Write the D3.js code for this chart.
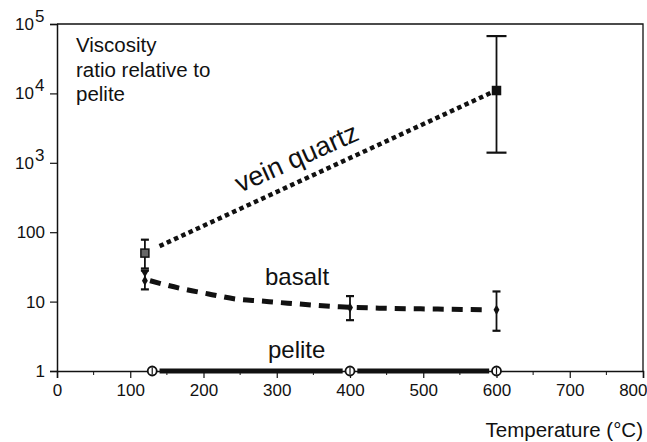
<!DOCTYPE html>
<html>
  <head>
    <meta charset="utf-8">
    <title>viscosity ratio</title>
    <script src="https://d3js.org/d3.v7.min.js"></script>
    <style>
      body { margin: 0; background: #fff; }
      text { font-family: "Liberation Sans", Arial, Helvetica, sans-serif; fill: #111; }
    </style>
  </head>
  <body>
    <div id="chart"></div>
    <script>
      // data
      var quartzT = [120, 600];
      var quartzV = [50, 11000];
      var quartzLo = [30, 1400];
      var quartzHi = [78, 67000];
      var quartzLineT = [140, 595];
      var quartzLineV = [63, 10500];

      var basaltT = [120, 400, 600];
      var basaltV = [20, 8.2, 7.6];
      var basaltLo = [15, 5.4, 3.8];
      var basaltHi = [28, 12, 14];
      var basaltCurveT = [127, 172, 207, 244, 278, 315, 386, 450, 520, 590];
      var basaltCurveV = [20, 15.2, 12.9, 10.9, 10.2, 9.5, 8.4, 8.0, 7.8, 7.6];

      var peliteT = [130, 400, 600];
      var peliteV = [1, 1, 1];
      var peliteSegT = [[140, 390], [410, 590]];

      var xTicks = [0, 100, 200, 300, 400, 500, 600, 700, 800];
      var xMinor = [50, 150, 250, 350, 450, 550, 650, 750];
      var yTicks = [1, 10, 100, 1000, 10000, 100000];
      var yBase = ["1", "10", "100", "10", "10", "10"];
      var yExp = ["", "", "", "3", "4", "5"];

      var width = 647, height = 442;
      // plot box (note: "top" is reserved on window)
      var m = { left: 57, right: 643, top: 24, bottom: 371 };

      var x = d3.scaleLinear().domain([0, 800]).range([m.left, m.right]);
      var y = d3.scaleLog().domain([1, 100000]).range([m.bottom, m.top]);

      var svg = d3.select("#chart").append("svg")
        .attr("width", width)
        .attr("height", height);

      // frame: top and right
      svg.append("path")
        .attr("d", "M" + m.left + "," + m.top + "H" + m.right + "V" + m.bottom)
        .attr("fill", "none")
        .attr("stroke", "#111")
        .attr("stroke-width", 1.3);

      // x axis
      var xAxis = svg.append("g")
        .attr("transform", "translate(0," + m.bottom + ")")
        .call(d3.axisBottom(x).tickValues(xTicks).tickSize(7).tickPadding(6).tickFormat(d3.format("d")));
      xAxis.append("g").selectAll("line")
        .data(xMinor).enter().append("line")
        .attr("x1", function(d) { return x(d); })
        .attr("x2", function(d) { return x(d); })
        .attr("y1", 0).attr("y2", 4)
        .attr("stroke", "#111");

      // y axis
      svg.append("g")
        .attr("transform", "translate(" + m.left + ",0)")
        .call(d3.axisLeft(y).tickValues(yTicks).tickSize(7).tickFormat(""));

      svg.selectAll(".domain").attr("stroke", "#111").attr("stroke-width", 1.5);
      svg.selectAll(".tick line").attr("stroke", "#111").attr("stroke-width", 1.2);
      xAxis.selectAll(".tick text")
        .style("font-size", "17px")
        .style("font-family", "'Liberation Sans', Arial, sans-serif")
        .attr("fill", "#111");
      // last label sits against the right edge in the original
      xAxis.selectAll(".tick text")
        .filter(function(d) { return d === 800; })
        .attr("text-anchor", "end")
        .attr("dx", 4);

      // y tick labels with superscripts
      svg.append("g").selectAll("text")
        .data(yTicks).enter().append("text")
        .attr("x", function(d, i) { return yExp[i] ? 34 : 45; })
        .attr("y", function(d) { return y(d) + 6; })
        .attr("text-anchor", "end")
        .style("font-size", "17px")
        .text(function(d, i) { return yBase[i]; });
      svg.append("g").selectAll("text")
        .data(yTicks.filter(function(d, i) { return yExp[i]; })).enter().append("text")
        .attr("x", 35)
        .attr("y", function(d) { return y(d) - 2; })
        .style("font-size", "17px")
        .text(function(d) { return yExp[yTicks.indexOf(d)]; });

      var line = d3.line()
        .x(function(d) { return x(d[0]); })
        .y(function(d) { return y(d[1]); });

      // vein quartz dotted line
      svg.append("path")
        .attr("d", line(d3.zip(quartzLineT, quartzLineV)))
        .attr("fill", "none")
        .attr("stroke", "#111")
        .attr("stroke-width", 4.5)
        .attr("stroke-dasharray", "4.5 3.5");

      // basalt dashed curve
      var curve = d3.line()
        .x(function(d) { return x(d[0]); })
        .y(function(d) { return y(d[1]); })
        .curve(d3.curveMonotoneX);
      svg.append("path")
        .attr("d", curve(d3.zip(basaltCurveT, basaltCurveV)))
        .attr("fill", "none")
        .attr("stroke", "#111")
        .attr("stroke-width", 5)
        .attr("stroke-dasharray", "11 8");

      // pelite solid segments
      svg.append("g").selectAll("line")
        .data(peliteSegT).enter().append("line")
        .attr("x1", function(d) { return x(d[0]); })
        .attr("x2", function(d) { return x(d[1]); })
        .attr("y1", y(1)).attr("y2", y(1))
        .attr("stroke", "#111")
        .attr("stroke-width", 5);

      // error bars
      function errorBars(ts, lo, hi, caps) {
        var g = svg.append("g");
        ts.forEach(function(t, i) {
          var cx = x(t);
          g.append("line")
            .attr("x1", cx).attr("x2", cx)
            .attr("y1", y(lo[i])).attr("y2", y(hi[i]))
            .attr("stroke", "#111").attr("stroke-width", 1.8);
          [lo[i], hi[i]].forEach(function(v) {
            g.append("line")
              .attr("x1", cx - caps[i]).attr("x2", cx + caps[i])
              .attr("y1", y(v)).attr("y2", y(v))
              .attr("stroke", "#111").attr("stroke-width", 2.2);
          });
        });
      }
      errorBars(quartzT, quartzLo, quartzHi, [4, 10]);
      errorBars(basaltT, basaltLo, basaltHi, [4, 4, 4]);

      // markers
      svg.append("g").selectAll("rect")
        .data(d3.zip(quartzT, quartzV)).enter().append("rect")
        .attr("x", function(d) { return x(d[0]) - 4; })
        .attr("y", function(d) { return y(d[1]) - 4; })
        .attr("width", 8).attr("height", 8)
        .attr("fill", function(d, i) { return i === 0 ? "#666" : "#111"; })
        .attr("stroke", "#111").attr("stroke-width", 1.5);

      svg.append("g").selectAll("path")
        .data(d3.zip(basaltT, basaltV)).enter().append("path")
        .attr("d", d3.symbol().type(d3.symbolDiamond).size(30))
        .attr("transform", function(d) { return "translate(" + x(d[0]) + "," + y(d[1]) + ")"; })
        .attr("fill", "#111");

      // small down triangle at top of basalt bar at 120
      svg.append("path")
        .attr("d", d3.symbol().type(d3.symbolTriangle).size(30))
        .attr("transform", "translate(" + x(basaltT[0]) + "," + (y(basaltHi[0]) + 2) + ") rotate(180)")
        .attr("fill", "#111");

      var pel = svg.append("g").selectAll("g")
        .data(d3.zip(peliteT, peliteV)).enter().append("g")
        .attr("transform", function(d) { return "translate(" + x(d[0]) + "," + y(d[1]) + ")"; });
      pel.append("circle")
        .attr("r", 4.5)
        .attr("fill", "#fff")
        .attr("stroke", "#111").attr("stroke-width", 1.8);
      pel.append("line")
        .attr("y1", -3.5).attr("y2", 3.5)
        .attr("stroke", "#111").attr("stroke-width", 1.2);

      // labels
      svg.append("text")
        .attr("transform", "translate(240,193) rotate(-24)")
        .style("font-size", "27px")
        .text("vein quartz");
      svg.append("text")
        .attr("x", 265).attr("y", 285)
        .style("font-size", "24px")
        .text("basalt");
      svg.append("text")
        .attr("x", 268).attr("y", 358)
        .style("font-size", "24px")
        .text("pelite");

      var note = svg.append("text")
        .attr("x", 76).attr("y", 52)
        .style("font-size", "20.5px");
      ["Viscosity", "ratio relative to", "pelite"].forEach(function(s, i) {
        note.append("tspan").attr("x", 76).attr("dy", i ? 24.5 : 0).text(s);
      });

      svg.append("text")
        .attr("x", 643).attr("y", 437)
        .attr("text-anchor", "end")
        .style("font-size", "20.5px")
        .text("Temperature (°C)");
    </script>
  </body>
</html>
